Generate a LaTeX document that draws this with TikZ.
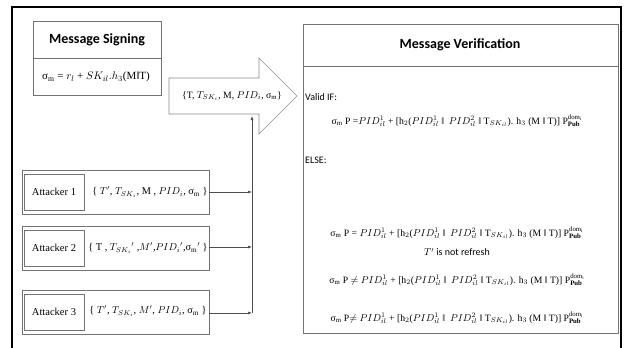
\documentclass[tikz,border=0pt]{standalone}
\usepackage{fontspec}
\setmainfont{Liberation Serif}
\newfontfamily\carlitofont{Carlito}
\usetikzlibrary{arrows.meta}
\tikzset{
  box/.style={draw=black!55, line width=0.8pt},
  ibox/.style={draw=black!55, line width=0.8pt, minimum width=60pt, minimum height=36pt, inner sep=0pt, font=\fontsize{10.5}{12}\selectfont},
  title/.style={font=\carlitofont\bfseries\fontsize{14}{16}\selectfont},
  lbl/.style={font=\carlitofont\fontsize{10}{12}\selectfont, anchor=west, inner sep=0pt},
  frm/.style={font=\fontsize{9.7}{12}\selectfont, inner sep=0pt},
  sfrm/.style={font=\fontsize{11}{13}\selectfont, inner sep=0pt},
  afrm/.style={font=\fontsize{10.3}{13}\selectfont, inner sep=0pt},
  conn/.style={draw=black!70, line width=0.6pt, -{Latex[length=4pt,width=3pt]}}
}
\begin{document}
\begin{tikzpicture}[x=1pt,y=-1pt]
\useasboundingbox (0,0) rectangle (625,348);
% outer frame
\draw[line width=1.8pt] (12,352) -- (12,7) -- (621,7) -- (621,352);
% message signing
\node[box, minimum width=128pt, minimum height=74pt, inner sep=0pt] (sign) at (97,58) {};
\draw[black!55, line width=0.8pt] (33,58) -- (161,58);
\node[title] (signt) at (97,40) {Message Signing};
\node[sfrm] (signf) at (96,77) {σ$_{\rm m}$ = $r_{l}$ + $SK_{il}.h_3$(M‖T)};
% big arrow
\draw[black!45, line width=0.6pt, fill=white] (169,78) -- (259,78) -- (259,58) -- (297,96) -- (259,134) -- (259,114) -- (169,114) -- cycle;
\node[frm] (msg) at (232,96) {\{T, $T_{SK_i}$, M, $PID_i$, σ$_{\rm m}$\}};
\coordinate (abot) at (252,116);
% verification box
\node[box, minimum width=315pt, minimum height=309pt, inner sep=0pt] (ver) at (460.5,178.5) {};
\draw[black!55, line width=0.8pt] (303,66) -- (618,66);
\node[title] (vert) at (460,45) {Message Verification};
\node[lbl] (valid) at (305,97) {Valid IF:};
\node[frm] (f1) at (457,121) {σ$_{\rm m}$ P =$PID^1_{il}$ + [h$_2$($PID^1_{il}$ ‖ \ $PID^2_{il}$ ‖ T$_{SK_{il}}$). h$_3$ (M ‖ T)] P$^{\rm dom_i}_{\mathbf{Pub}}$};
\node[lbl] (else) at (305,160) {ELSE:};
\node[frm] (f2) at (457,233) {σ$_{\rm m}$ P = $PID^1_{il}$ + [h$_2$($PID^1_{il}$ ‖ \ $PID^2_{il}$ ‖ T$_{SK_{il}}$). h$_3$ (M ‖ T)] P$^{\rm dom_i}_{\mathbf{Pub}}$};
\node[frm, font=\carlitofont\fontsize{10}{12}\selectfont] (nr) at (457,252) {$T'$ is not refresh};
\node[frm] (f3) at (457,280) {σ$_{\rm m}$ P $\neq$ $PID^1_{il}$ + [h$_2$($PID^1_{il}$ ‖ \ $PID^2_{il}$ ‖ T$_{SK_{il}}$). h$_3$ (M ‖ T)] P$^{\rm dom_i}_{\mathbf{Pub}}$};
\node[frm] (f4) at (457,318) {σ$_{\rm m}$ P$\neq$ $PID^1_{il}$ + [h$_2$($PID^1_{il}$ ‖ \ $PID^2_{il}$ ‖ T$_{SK_{il}}$). h$_3$ (M ‖ T)] P$^{\rm dom_i}_{\mathbf{Pub}}$};
% attackers
\node[box, minimum width=187pt, minimum height=44pt, inner sep=0pt] (g1) at (115.5,192) {};
\node[ibox] (a1) at (54,192) {Attacker 1};
\node[afrm] (s1) at (150,192) {\{ $T'$, $T_{SK_i}$, M , $PID_i$, σ$_{\rm m}$ \}};
\node[box, minimum width=187pt, minimum height=44pt, inner sep=0pt] (g2) at (115.5,248) {};
\node[ibox] (a2) at (54,248) {Attacker 2};
\node[afrm] (s2) at (148,248) {\{ T , $T_{SK_i}{}'$ ,$M'$,$PID_i{}'$,σ$_{\rm m}{}'$ \}};
\node[box, minimum width=187pt, minimum height=44pt, inner sep=0pt] (g3) at (115.5,312) {};
\node[ibox] (a3) at (54,312) {Attacker 3};
\node[afrm] (s3) at (148,311) {\{ $T'$, $T_{SK_i}$, $M'$, $PID_i$, σ$_{\rm m}$ \}};
% connectors
\coordinate (j1) at (252,192);
\coordinate (j2) at (252,247);
\coordinate (j3) at (252,313);
\draw[conn] (g1.east) -- (j1);
\draw[conn] (g2.east |- j2) -- (j2);
\draw[conn] (g3.east |- j3) -- (j3);
\draw[conn] (j3) -- (abot);
\end{tikzpicture}
\end{document}
